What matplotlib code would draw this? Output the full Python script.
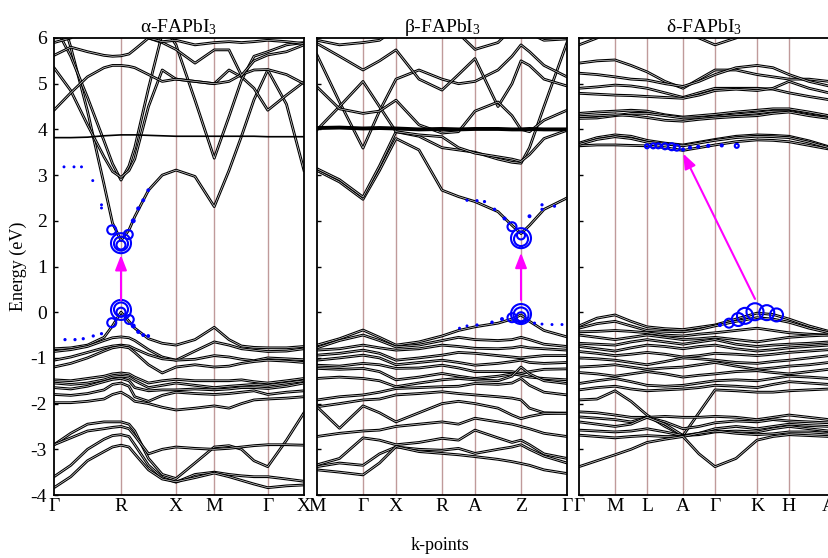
import matplotlib.pyplot as plt
import numpy as np

plt.rcParams['font.family'] = ['Liberation Serif', 'DejaVu Serif']
plt.rcParams['mathtext.fontset'] = 'custom'
plt.rcParams['mathtext.rm'] = 'Liberation Serif'
plt.rcParams['mathtext.default'] = 'regular'
plt.rcParams['axes.unicode_minus'] = False

# ---------------- alpha-FAPbI3 ----------------
k1 = [0, .067, .134, .2, .234, .268, .3, .323, .378, .433, .488, .564, .641, .7, .75, .8, .855, .93, 1.0]
k1_ticks = [0, .268, .488, .641, .855, 1.0]
k1_labels = ['Γ', 'R', 'X', 'M', 'Γ', 'X']
a_bands = [
    [7.0, 5.8, 4.4, 2.8, 1.95, 1.57, 1.8, 2.09, 2.67, 3.0, 3.11, 2.97, 2.31, 3.1, 3.85, 4.65, 5.3, 4.55, 3.1],
    [6.3, 5.6, 4.7, 3.75, 3.25, 2.89, 3.2, 3.6, 4.9, 6.1, 6.6, 6.6, 6.6, 6.6, 6.6, 6.6, 6.6, 6.6, 6.6],
    [5.35, 4.85, 4.1, 3.4, 3.08, 2.95, 3.1, 3.35, 4.5, 5.3, 5.1, 5.05, 5.0, 5.3, 5.15, 4.9, 4.42, 4.75, 5.04],
    [6.6, 6.6, 6.6, 6.6, 6.6, 6.6, 6.6, 6.6, 6.6, 6.3, 5.85, 4.64, 3.37, 4.28, 5.08, 5.6, 5.7, 5.85, 5.9],
    [4.42, 4.8, 5.15, 5.35, 5.4, 5.4, 5.38, 5.35, 5.2, 5.05, 5.1, 5.05, 5.0, 5.05, 5.2, 5.3, 5.31, 5.2, 5.0],
    [5.62, 5.8, 5.7, 5.62, 5.6, 5.61, 5.65, 5.75, 6.0, 5.9, 5.75, 5.45, 5.74, 5.74, 5.18, 5.5, 5.63, 5.7, 5.85],
    [5.9, 6.0, 6.3, 6.6, 6.6, 6.6, 6.6, 6.3, 6.0, 5.92, 5.95, 5.85, 5.9, 5.92, 5.9, 5.92, 5.95, 5.92, 5.88],
    [-0.8, -0.78, -0.72, -0.55, -0.3, 0.0, -0.2, -0.35, -0.58, -0.68, -0.72, -0.6, -0.33, -0.6, -0.74, -0.77, -0.78, -0.78, -0.75],
    [-0.86, -0.82, -0.75, -0.62, -0.56, -0.54, -0.56, -0.62, -0.82, -0.98, -1.05, -0.85, -0.65, -0.72, -0.8, -0.83, -0.86, -0.85, -0.8],
    [-1.05, -0.98, -0.88, -0.78, -0.74, -0.72, -0.74, -0.8, -0.93, -1.02, -1.05, -1.03, -0.95, -0.98, -1.03, -1.06, -1.0, -1.02, -1.04],
    [-1.2, -1.12, -1.0, -0.85, -0.78, -0.75, -0.78, -0.88, -1.15, -1.33, -1.2, -1.15, -1.2, -1.18, -1.12, -1.08, -1.05, -1.07, -1.1],
    [-1.48, -1.5, -1.45, -1.4, -1.35, -1.33, -1.35, -1.42, -1.55, -1.5, -1.47, -1.5, -1.5, -1.5, -1.48, -1.52, -1.55, -1.5, -1.45],
    [-1.55, -1.58, -1.55, -1.48, -1.42, -1.4, -1.42, -1.5, -1.65, -1.6, -1.55, -1.6, -1.65, -1.62, -1.6, -1.58, -1.6, -1.55, -1.5],
    [-1.65, -1.68, -1.62, -1.52, -1.47, -1.45, -1.5, -1.65, -1.72, -1.7, -1.7, -1.68, -1.7, -1.68, -1.65, -1.65, -1.67, -1.62, -1.55],
    [-1.8, -1.82, -1.78, -1.7, -1.58, -1.55, -1.62, -1.85, -1.95, -1.82, -1.75, -1.78, -1.8, -1.78, -1.75, -1.72, -1.8, -1.75, -1.72],
    [-1.98, -1.98, -1.95, -1.9, -1.8, -1.75, -1.85, -1.95, -2.0, -2.08, -2.14, -2.1, -2.05, -2.1, -2.0, -1.92, -1.9, -1.88, -1.85],
    [-2.9, -2.65, -2.45, -2.4, -2.4, -2.4, -2.45, -2.6, -3.2, -3.55, -3.64, -3.3, -2.95, -2.92, -3.0, -3.25, -3.38, -2.8, -2.2],
    [-2.9, -2.75, -2.6, -2.55, -2.52, -2.5, -2.55, -2.7, -3.1, -3.0, -2.95, -2.98, -3.0, -2.98, -2.95, -2.92, -2.9, -2.9, -2.91],
    [-3.6, -3.35, -3.0, -2.78, -2.7, -2.68, -2.72, -2.9, -3.35, -3.62, -3.72, -3.55, -3.5, -3.55, -3.58, -3.6, -3.6, -3.65, -3.7],
    [-3.84, -3.6, -3.25, -3.05, -2.95, -2.91, -2.95, -3.1, -3.45, -3.65, -3.71, -3.62, -3.52, -3.6, -3.68, -3.76, -3.84, -3.8, -3.78],
]
a_flat = [3.82, 3.82, 3.83, 3.86, 3.87, 3.88, 3.88, 3.88, 3.87, 3.86, 3.85, 3.85, 3.85, 3.85, 3.85, 3.85, 3.84, 3.84, 3.84]
# fat-band projections: k, energy, weight
a_fat_k = [.268, .268, .268, .231, .297, .317, .337, .357, .377, .04, .08, .11, .155, .19, .19,
           .268, .268, .268, .231, .301, .317, .337, .357, .377, .044, .084, .117, .157, .19]
a_fat_e = [1.51, 1.5, 1.47, 1.8, 1.7, 2.0, 2.27, 2.45, 2.67, 3.18, 3.18, 3.18, 2.88, 2.35, 2.28,
           0.05, 0.06, 0.0, -0.23, -0.16, -0.3, -0.43, -0.5, -0.52, -0.6, -0.6, -0.58, -0.52, -0.47]
a_fat_w = [1.0, 0.7, 0.45, 0.45, 0.45, 0.14, 0.1, 0.09, 0.08, 0.05, 0.05, 0.05, 0.05, 0.05, 0.05,
           1.0, 0.7, 0.45, 0.45, 0.45, 0.14, 0.1, 0.09, 0.08, 0.06, 0.06, 0.06, 0.06, 0.06]
a_arrow = (.268, 0.27, .268, 1.25)

# ---------------- beta-FAPbI3 ----------------
k2 = [0, .09, .184, .25, .316, .408, .5, .566, .632, .724, .78, .816, .85, .908, 1.0]
k2_ticks = [0, .184, .316, .5, .632, .816, 1.0]
k2_labels = ['M', 'Γ', 'X', 'R', 'A', 'Z', 'Γ']
b_bands = [
    [3.1, 2.85, 2.47, 3.1, 3.8, 3.55, 2.67, 2.53, 2.42, 2.2, 1.9, 1.72, 1.9, 2.25, 2.5],
    [3.14, 2.9, 2.52, 3.2, 3.95, 3.85, 3.6, 3.55, 3.5, 3.35, 3.28, 3.26, 3.6, 4.5, 5.9],
    [5.63, 4.6, 3.59, 4.4, 5.1, 5.3, 5.1, 5.0, 5.05, 5.3, 5.6, 5.85, 5.7, 5.4, 5.15],
    [3.99, 4.5, 5.05, 4.5, 3.95, 3.88, 3.84, 3.6, 3.48, 3.4, 3.35, 3.3, 3.45, 3.8, 3.98],
    [5.88, 5.6, 5.3, 5.5, 5.74, 5.1, 4.86, 5.2, 5.55, 4.5, 5.0, 5.5, 5.4, 5.1, 4.95],
    [4.93, 4.45, 4.35, 4.4, 4.64, 4.1, 3.92, 3.95, 4.4, 4.6, 4.3, 4.0, 3.95, 4.2, 4.42],
    [5.95, 5.85, 5.9, 5.95, 6.2, 6.4, 6.4, 6.1, 5.75, 5.9, 6.2, 6.4, 6.1, 5.95, 5.98],
    [-0.72, -0.58, -0.39, -0.55, -0.72, -0.65, -0.52, -0.4, -0.32, -0.24, -0.15, -0.06, -0.2, -0.4, -0.54],
    [-0.78, -0.62, -0.5, -0.62, -0.76, -0.72, -0.62, -0.55, -0.6, -0.62, -0.6, -0.55, -0.6, -0.7, -0.75],
    [-0.83, -0.8, -0.72, -0.78, -0.83, -0.8, -0.72, -0.75, -0.79, -0.8, -0.78, -0.75, -0.78, -0.8, -0.83],
    [-0.94, -0.9, -0.83, -0.9, -1.05, -1.0, -0.94, -0.88, -0.9, -0.95, -0.98, -1.0, -0.98, -0.95, -0.95],
    [-1.05, -1.0, -0.94, -1.0, -1.15, -1.1, -1.05, -1.1, -1.16, -1.12, -1.08, -1.05, -1.1, -1.12, -1.1],
    [-1.16, -1.18, -1.12, -1.15, -1.23, -1.22, -1.16, -1.22, -1.3, -1.3, -1.3, -1.34, -1.3, -1.25, -1.24],
    [-1.23, -1.25, -1.23, -1.3, -1.48, -1.42, -1.34, -1.4, -1.45, -1.4, -1.35, -1.38, -1.42, -1.45, -1.48],
    [-1.45, -1.42, -1.45, -1.5, -1.63, -1.55, -1.48, -1.45, -1.48, -1.5, -1.4, -1.2, -1.35, -1.5, -1.56],
    [-1.92, -1.85, -1.81, -1.75, -1.67, -1.65, -1.63, -1.62, -1.56, -1.58, -1.55, -1.45, -1.6, -1.75, -1.81],
    [-2.07, -2.0, -1.92, -1.9, -1.81, -1.78, -1.74, -1.78, -1.81, -1.85, -1.88, -1.92, -2.1, -2.2, -2.21],
    [-2.07, -2.54, -2.05, -2.2, -2.4, -2.2, -2.0, -1.95, -2.0, -2.1, -2.25, -2.33, -2.28, -2.22, -2.21],
    [-2.72, -2.65, -2.6, -2.58, -2.5, -2.45, -2.4, -2.45, -2.32, -2.4, -2.45, -2.5, -2.55, -2.65, -2.72],
    [-3.34, -3.2, -2.75, -2.8, -2.9, -2.85, -2.76, -2.8, -2.58, -2.75, -2.85, -2.8, -2.9, -3.1, -3.2],
    [-3.38, -3.3, -3.35, -3.1, -2.95, -3.0, -3.02, -2.98, -3.09, -3.0, -2.95, -2.9, -3.0, -3.15, -3.3],
    [-3.45, -3.5, -3.56, -3.3, -2.94, -3.05, -3.09, -3.12, -3.16, -3.22, -3.27, -3.31, -3.35, -3.45, -3.53],
]
b_flat = [4.03, 4.04, 4.02, 4.03, 4.02, 4.0, 4.01, 4.0, 4.01, 4.01, 4.0, 4.0, 4.01, 4.0, 4.0]
b_fat_k = [.816, .816, .816, .78, .6, .64, .67, .71, .75, .85, .9, .9, .95,
           .816, .816, .816, .78, .57, .6, .64, .7, .74, .87, .9, .94, .98]
b_fat_e = [1.62, 1.6, 1.68, 1.87, 2.45, 2.44, 2.42, 2.25, 2.05, 2.1, 2.25, 2.35, 2.32,
           -0.04, -0.06, -0.1, -0.12, -0.35, -0.3, -0.28, -0.22, -0.15, -0.24, -0.26, -0.27, -0.27]
b_fat_w = [1.0, 0.7, 0.4, 0.45, 0.06, 0.06, 0.06, 0.07, 0.09, 0.09, 0.06, 0.06, 0.06,
           1.0, 0.75, 0.45, 0.45, 0.05, 0.05, 0.06, 0.07, 0.09, 0.06, 0.05, 0.05, 0.05]
b_arrow = (.816, 0.27, .816, 1.3)

# ---------------- delta-FAPbI3 ----------------
k3 = [0, .072, .144, .208, .272, .344, .416, .48, .544, .628, .712, .776, .84, .92, 1.0]
k3_ticks = [0, .144, .272, .416, .544, .712, .84, 1.0]
k3_labels = ['Γ', 'M', 'L', 'A', 'Γ', 'K', 'H', 'A']
d_bands = [
    [3.64, 3.66, 3.66, 3.65, 3.64, 3.6, 3.54, 3.6, 3.66, 3.73, 3.77, 3.76, 3.73, 3.65, 3.57],
    [3.7, 3.82, 3.88, 3.85, 3.76, 3.7, 3.66, 3.72, 3.78, 3.85, 3.88, 3.87, 3.85, 3.75, 3.62],
    [3.67, 3.78, 3.84, 3.8, 3.72, 3.68, 3.64, 3.7, 3.76, 3.82, 3.85, 3.84, 3.82, 3.72, 3.6],
    [4.35, 4.38, 4.4, 4.42, 4.4, 4.32, 4.27, 4.3, 4.33, 4.38, 4.42, 4.45, 4.45, 4.38, 4.3],
    [4.24, 4.25, 4.3, 4.35, 4.35, 4.3, 4.25, 4.25, 4.28, 4.32, 4.36, 4.4, 4.4, 4.32, 4.26],
    [4.28, 4.3, 4.32, 4.3, 4.26, 4.2, 4.18, 4.22, 4.25, 4.28, 4.3, 4.35, 4.38, 4.3, 4.24],
    [5.45, 5.5, 5.52, 5.4, 5.26, 5.05, 4.9, 5.1, 5.3, 5.3, 5.2, 5.15, 5.1, 5.1, 5.05],
    [5.23, 5.2, 5.15, 5.1, 5.08, 5.0, 4.94, 5.05, 5.2, 5.35, 5.4, 5.35, 5.2, 5.05, 4.95],
    [4.9, 4.93, 4.97, 4.95, 4.9, 4.8, 4.7, 4.8, 4.9, 4.9, 4.9, 4.88, 4.8, 4.72, 4.65],
    [4.79, 4.77, 4.75, 4.74, 4.72, 4.7, 4.68, 4.75, 4.85, 4.88, 4.85, 4.9, 5.05, 4.9, 4.8],
    [5.85, 6.0, 6.2, 6.3, 6.3, 6.2, 6.1, 6.0, 5.85, 6.0, 6.3, 6.3, 6.3, 6.3, 6.3],
    [-0.3, -0.13, -0.06, -0.2, -0.32, -0.36, -0.38, -0.33, -0.28, -0.15, -0.02, -0.05, -0.15, -0.3, -0.42],
    [-0.35, -0.25, -0.2, -0.3, -0.4, -0.42, -0.43, -0.38, -0.3, -0.2, -0.12, -0.15, -0.22, -0.35, -0.45],
    [-0.43, -0.42, -0.4, -0.42, -0.45, -0.5, -0.52, -0.48, -0.45, -0.4, -0.35, -0.4, -0.45, -0.48, -0.5],
    [-0.5, -0.55, -0.6, -0.55, -0.5, -0.55, -0.6, -0.58, -0.55, -0.6, -0.65, -0.6, -0.55, -0.52, -0.5],
    [-0.68, -0.7, -0.72, -0.65, -0.6, -0.65, -0.7, -0.65, -0.6, -0.7, -0.75, -0.72, -0.7, -0.68, -0.65],
    [-0.75, -0.8, -0.85, -0.78, -0.72, -0.75, -0.8, -0.75, -0.72, -0.8, -0.85, -0.82, -0.78, -0.75, -0.72],
    [-0.86, -0.9, -0.95, -0.92, -0.88, -0.92, -0.98, -0.95, -0.9, -0.92, -0.95, -0.92, -0.88, -0.85, -0.82],
    [-1.0, -1.02, -1.05, -1.1, -1.15, -1.08, -1.0, -1.02, -1.05, -1.1, -1.12, -1.08, -1.05, -1.0, -0.95],
    [-1.2, -1.18, -1.15, -1.2, -1.25, -1.22, -1.2, -1.15, -1.1, -1.18, -1.25, -1.22, -1.18, -1.15, -1.1],
    [-1.32, -1.35, -1.4, -1.35, -1.3, -1.35, -1.42, -1.38, -1.35, -1.3, -1.28, -1.32, -1.35, -1.3, -1.25],
    [-1.56, -1.5, -1.45, -1.52, -1.6, -1.62, -1.6, -1.55, -1.5, -1.48, -1.5, -1.45, -1.4, -1.42, -1.45],
    [-1.7, -1.65, -1.62, -1.68, -1.72, -1.7, -1.68, -1.65, -1.6, -1.62, -1.65, -1.58, -1.52, -1.55, -1.58],
    [-1.92, -1.9, -1.72, -1.95, -2.25, -2.5, -2.7, -2.2, -1.7, -1.72, -1.75, -1.75, -1.72, -1.7, -1.68],
    [-2.18, -2.2, -2.25, -2.3, -2.3, -2.28, -2.3, -2.3, -2.28, -2.3, -2.35, -2.3, -2.25, -2.3, -2.35],
    [-2.29, -2.32, -2.35, -2.4, -2.3, -2.4, -2.55, -2.5, -2.42, -2.38, -2.4, -2.35, -2.38, -2.4, -2.42],
    [-2.4, -2.45, -2.5, -2.45, -2.3, -2.45, -2.7, -2.65, -2.55, -2.5, -2.55, -2.5, -2.45, -2.48, -2.5],
    [-2.58, -2.6, -2.62, -2.6, -2.55, -2.62, -2.7, -2.68, -2.62, -2.6, -2.62, -2.55, -2.5, -2.55, -2.6],
    [-2.69, -2.72, -2.75, -2.72, -2.7, -2.72, -2.72, -2.65, -2.6, -2.65, -2.68, -2.66, -2.62, -2.62, -2.65],
    [-3.38, -3.25, -3.12, -3.0, -2.85, -2.78, -2.72, -3.1, -3.38, -3.2, -2.8, -2.72, -2.68, -2.7, -2.72],
]
d_fat_k = [.272, .297, .317, .344, .371, .391, .416, .444, .477, .517, .571, .631,
           .564, .6, .637, .664, .704, .751, .79]
d_fat_e = [3.63, 3.64, 3.64, 3.63, 3.62, 3.6, 3.56, 3.6, 3.62, 3.64, 3.65, 3.64,
           -0.28, -0.24, -0.16, -0.08, 0.01, -0.01, -0.06]
d_fat_w = [0.2, 0.25, 0.25, 0.3, 0.35, 0.3, 0.1, 0.1, 0.1, 0.1, 0.1, 0.2,
           0.1, 0.45, 0.65, 0.8, 0.85, 0.75, 0.65]
d_arrow = (.704, 0.29, .417, 3.47)

panels = [
    ('α-FAPbI$_3$', k1, k1_ticks, k1_labels, a_bands, a_flat, a_fat_k, a_fat_e, a_fat_w, a_arrow),
    ('β-FAPbI$_3$', k2, k2_ticks, k2_labels, b_bands, b_flat, b_fat_k, b_fat_e, b_fat_w, b_arrow),
    ('δ-FAPbI$_3$', k3, k3_ticks, k3_labels, d_bands, None, d_fat_k, d_fat_e, d_fat_w, d_arrow),
]

fig = plt.figure(figsize=(8.29, 5.58), dpi=100)
lefts = [54 / 829, 317 / 829, 579 / 829]
for i, (title, k, kt, kl, bands, flat, fk, fe, fw, arr) in enumerate(panels):
    ax = fig.add_axes([lefts[i], 63 / 558, 250 / 829, 457 / 558])
    for x in kt[1:-1]:
        ax.axvline(x, color='#c09a9a', lw=1.0, zorder=1)
    for b in bands:
        ax.plot(k, b, color='black', lw=2.0, solid_joinstyle='round', zorder=2)
        ax.plot(k, b, color='white', lw=0.4, solid_joinstyle='round', zorder=2)
    if flat is not None:
        lw = 1.2 if i == 0 else 2.8
        ax.plot(k, flat, color='black', lw=lw, zorder=2)
    # fat bands: weak weights as filled dots, strong ones as open circles
    fk, fe, fw = np.array(fk), np.array(fe), np.array(fw)
    s = (fw * 20.0 * 72 / 100) ** 2
    big = fw > 0.15
    ax.scatter(fk[big], fe[big], s=s[big], facecolors='none', edgecolors='#0000ff',
               linewidths=1.5, zorder=3)
    ax.scatter(fk[~big], fe[~big], s=fw[~big] * 90, color='#0000ff', linewidths=0, zorder=3)
    ax.annotate('', xy=(arr[2], arr[3]), xytext=(arr[0], arr[1]),
                arrowprops=dict(arrowstyle='-|>,head_length=0.9,head_width=0.35',
                                color='#ff00ff', lw=1.5, shrinkA=0, shrinkB=0), zorder=4)
    ax.set_xlim(0, 1)
    ax.set_ylim(-4, 6)
    ax.set_xticks(kt)
    ax.set_xticklabels(kl, fontsize=14)
    ax.tick_params(axis='x', length=0, pad=2)
    ax.set_yticks(range(-4, 7))
    ax.tick_params(axis='y', direction='in', length=3, width=1, labelsize=14, pad=5)
    if i > 0:
        ax.set_yticklabels([])
    for sp in ax.spines.values():
        sp.set_linewidth(1.3)
    if i == 2:
        ax.spines['right'].set_visible(False)
    ax.set_title(title, fontsize=14, pad=4)

fig.text(18 / 829, 1 - 266 / 558, 'Energy (eV)', rotation=90, ha='center', va='center', fontsize=13)
fig.text(440 / 829, 1 - 546 / 558, 'k-points', ha='center', va='center', fontsize=13)

fig.savefig('out.png', dpi=100)
